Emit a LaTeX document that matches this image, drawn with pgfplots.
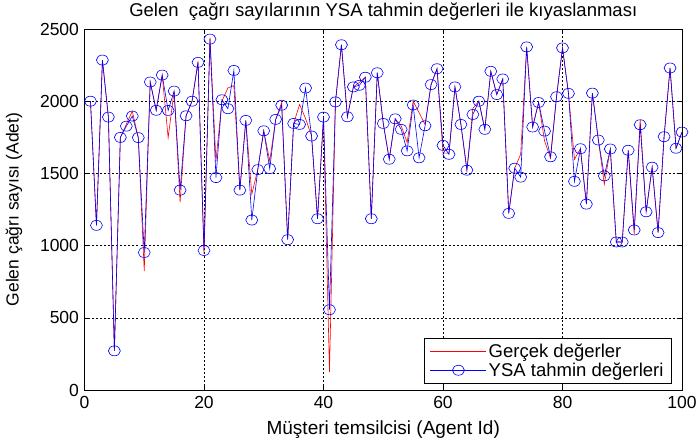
\documentclass[border=0pt]{standalone}
\usepackage{fontspec}
\setmainfont{Liberation Sans}
\usepackage{pgfplots}
\usepackage{pgfplotstable}
\pgfplotsset{compat=1.18}
\pgfplotstableread{
x y
1 2000
2 1140
3 2285
4 1890
5 271
6 1749
7 1840
8 1931
9 1748
10 823
11 2133
12 1937
13 2181
14 1747
15 2070
16 1299
17 1899
18 2000
19 2275
20 945
21 2440
22 1586
23 2000
24 2092
25 2108
26 1384
27 1867
28 1356
29 1526
30 1795
31 1586
32 1874
33 1990
34 1041
35 1846
36 1977
37 1880
38 1759
39 1186
40 1890
41 126
42 1995
43 2391
44 1892
45 2099
46 2130
47 2166
48 1186
49 2197
50 1846
51 1598
52 1878
53 1830
54 1713
55 2000
56 1920
57 1839
58 2115
59 2225
60 1640
61 1640
62 2099
63 1839
64 1522
65 1950
66 2000
67 1805
68 2207
69 2046
70 2154
71 1223
72 1536
73 1632
74 2376
75 1821
76 1991
77 1724
78 1605
79 2031
80 2369
81 2054
82 1598
83 1671
84 1287
85 2056
86 1731
87 1425
88 1669
89 1025
90 1025
91 1660
92 1080
93 1873
94 1234
95 1543
96 1090
97 1754
98 2230
99 1674
100 1786
}\real
\pgfplotstableread{
x y
1 2000
2 1140
3 2285
4 1890
5 271
6 1749
7 1827
8 1897
9 1748
10 952
11 2133
12 1937
13 2181
14 1936
15 2070
16 1384
17 1899
18 2000
19 2269
20 966
21 2430
22 1471
23 2010
24 1948
25 2213
26 1384
27 1867
28 1177
29 1526
30 1795
31 1533
32 1874
33 1972
34 1041
35 1846
36 1839
37 2091
38 1759
39 1186
40 1890
41 556
42 1995
43 2391
44 1892
45 2099
46 2110
47 2166
48 1186
49 2197
50 1846
51 1598
52 1878
53 1805
54 1656
55 1974
56 1608
57 1830
58 2115
59 2225
60 1694
61 1632
62 2099
63 1839
64 1522
65 1908
66 2000
67 1805
68 2207
69 2046
70 2154
71 1223
72 1536
73 1474
74 2376
75 1821
76 1991
77 1793
78 1615
79 2031
80 2369
81 2054
82 1445
83 1671
84 1287
85 2056
86 1731
87 1483
88 1669
89 1025
90 1025
91 1660
92 1108
93 1837
94 1234
95 1543
96 1090
97 1754
98 2230
99 1674
100 1786
}\ysa
\begin{document}
\begin{tikzpicture}
\path[use as bounding box] (-84.5pt,-54pt) rectangle (614.5pt,390pt);
\begin{axis}[
 at={(0,0)}, anchor=south west,
 scale only axis, width=597.5pt, height=361pt,
 xmin=0, xmax=100, ymin=0, ymax=2500,
 xtick={0,20,...,100}, ytick={0,500,...,2500},
 tick align=inside, tick pos=both, major tick length=5pt,
 tick style={black, line width=0.5pt},
 tick label style={font=\fontsize{17.5}{20}\selectfont},
 xticklabel style={yshift=-3pt},
 yticklabel style={xshift=-2pt},
 grid=major, grid style={black, line width=0.5pt, dash pattern=on 2pt off 2pt},
 axis line style={black, line width=0.6pt},
 /pgf/number format/assume math mode=true,
 /pgf/number format/1000 sep={},
 title={Gelen\ \ çağrı sayılarının YSA tahmin değerleri ile kıyaslanması},
 xlabel={Müşteri temsilcisi (Agent Id)},
 ylabel={Gelen çağrı sayısı (Adet)},
 title style={at={(axis description cs:0.5,1.05)}, anchor=center, yshift=-7pt, font=\fontsize{18.5}{21}\selectfont},
 x label style={at={(axis description cs:0.5,-0.11)}, anchor=center, font=\fontsize{19}{22}\selectfont},
 y label style={at={(axis description cs:-0.118,0.5)}, anchor=center, font=\fontsize{17.5}{20}\selectfont},
 legend style={at={(rel axis cs:0.983,0.019)}, anchor=south east, draw=black, line width=0.6pt, inner xsep=6pt, inner ysep=3pt, row sep=0pt, font=\fontsize{18.5}{21}\selectfont},
 legend cell align=left,
 legend image code/.code={\draw[mark repeat=2,mark phase=2,#1] plot coordinates {(0pt,0pt) (28pt,0pt) (56pt,0pt)};},
]
\addplot[red, line width=0.6pt] table {\real};
\addlegendentry{Gerçek değerler}
\addplot[blue, line width=0.6pt, mark=o, mark size=5pt, mark options={xscale=1.2, solid}] table {\ysa};
\addlegendentry{YSA tahmin değerleri}
\end{axis}
\end{tikzpicture}
\end{document}
